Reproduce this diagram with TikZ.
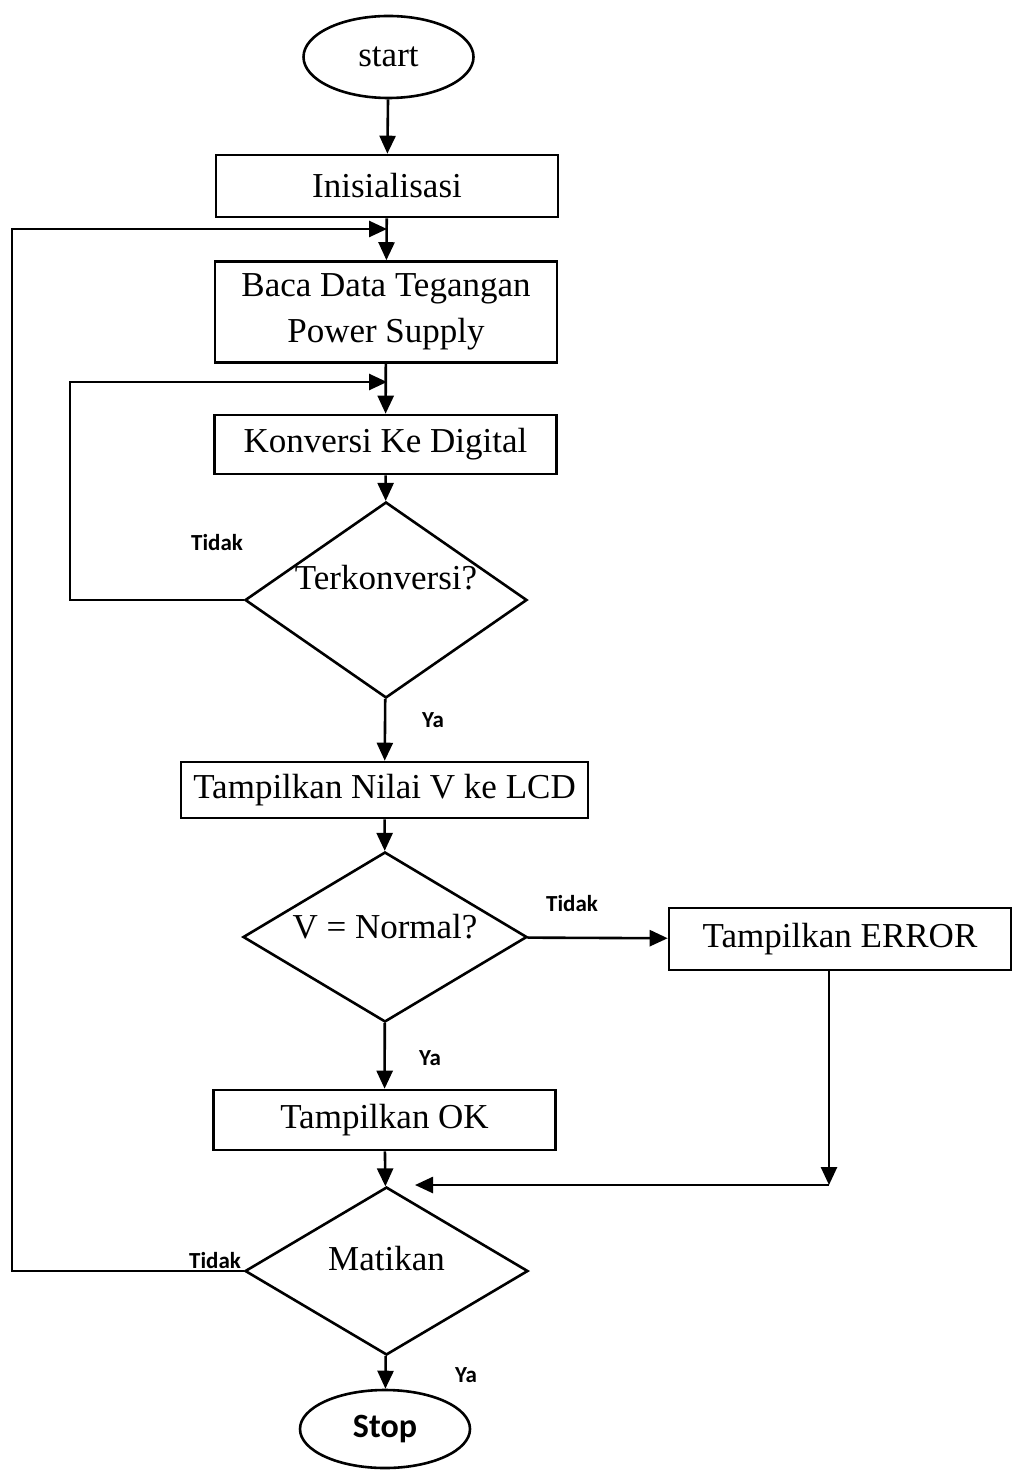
\documentclass[tikz,border=0pt]{standalone}
\usepackage{fontspec}
\setmainfont{Liberation Serif}
\newfontfamily\lblfont{Carlito}
\usetikzlibrary{shapes.geometric,arrows.meta}

\begin{document}
\begin{tikzpicture}[x=0.5pt,y=-0.5pt,line width=1.3pt,
    every node/.style={font=\fontsize{17.5}{21}\selectfont},
    box/.style={draw,rectangle,inner sep=0,minimum width=171pt,minimum height=31pt,align=center},
    dec/.style={draw,diamond,inner sep=0,aspect=1.5},
    term/.style={draw,ellipse,inner sep=0,minimum width=85pt,minimum height=41pt},
    lbl/.style={font=\lblfont\bfseries\fontsize{11.5}{13}\selectfont,inner sep=0},
    arr/.style={-{Triangle[length=9pt,width=8pt]}}]
        \useasboundingbox (0,0) rectangle (1013,1470);
        \node[term] (start) at (388.5,57) {start};
        \node[box] (init) at (387,186) {Inisialisasi};
        \node[box,minimum height=50.5pt] (baca) at (386,312) {Baca Data Tegangan\\[2pt]Power Supply};
        \node[box,minimum height=29.5pt] (konv) at (385.5,444.5) {Konversi Ke Digital};
        \node[dec,minimum width=141pt,minimum height=98pt,label={[yshift=11pt]center:Terkonversi?}] (terk) at (386,600) {};
        \node[box,minimum width=203.5pt,minimum height=28pt] (tampil) at (384.5,790) {Tampilkan Nilai V ke LCD};
        \node[dec,minimum width=142pt,minimum height=85pt,label={[yshift=5pt]center:V = Normal?}] (vn) at (385,937) {};
        \node[box] (err) at (840,939) {Tampilkan ERROR};
        \node[box,minimum height=30pt] (ok) at (384.5,1120) {Tampilkan OK};
        \node[dec,minimum width=141.5pt,minimum height=84pt,label={[yshift=6pt]center:Matikan}] (mat) at (386.5,1271) {};
        \node[term,minimum height=39pt,font=\lblfont\bfseries\fontsize{17}{20}\selectfont] (stop) at (385,1429) {Stop};
        \node[lbl] (t1) at (217,543) {Tidak};
        \node[lbl] (y1) at (433,720) {Ya};
        \node[lbl] (t2) at (572,904) {Tidak};
        \node[lbl] (y2) at (430,1058) {Ya};
        \node[lbl] (t3) at (215,1260) {Tidak};
        \node[lbl] (y3) at (466,1375) {Ya};
        \coordinate (l1) at (12,229);
        \coordinate (j1) at (387,229);
        \coordinate (l2) at (70,382);
        \coordinate (j2) at (387,382);
        \coordinate (e3) at (829,1185);
        \coordinate (j4) at (415,1185);
        \draw[arr] (start) -- (init);
        \draw[arr] (init) -- (baca);
        \draw[arr] (baca) -- (konv);
        \draw[arr] (konv) -- (terk);
        \draw[arr] (terk) -- (tampil);
        \draw[arr] (tampil) -- (vn);
        \draw[arr] (vn) -- (ok);
        \draw[arr] (vn) -- (err);
        \draw[arr] (ok) -- (mat);
        \draw[arr] (mat) -- (stop);
        \draw[arr] (terk.west) -| (l2) -- (j2);
        \draw[arr] (mat.west) -| (l1) -- (j1);
        \draw[arr] (err.south -| e3) -- (e3);
        \draw[arr] (e3) -- (j4);
      \end{tikzpicture}
\end{document}
